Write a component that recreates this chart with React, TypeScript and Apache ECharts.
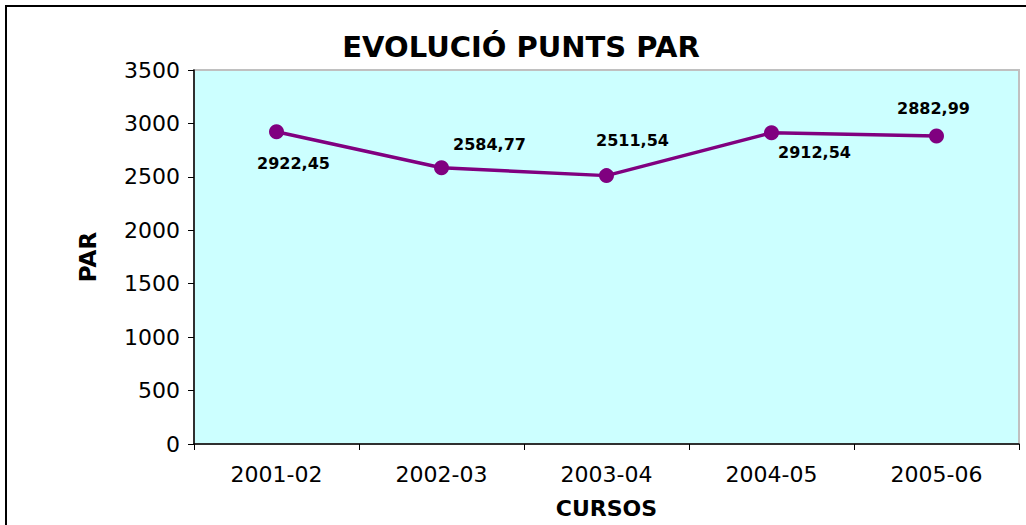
import React, { useEffect, useRef } from "react";
import * as echarts from "echarts";

const categories = ["2001-02", "2002-03", "2003-04", "2004-05", "2005-06"];
const values = [2922.45, 2584.77, 2511.54, 2912.54, 2882.99];
const labelTexts = ["2922,45", "2584,77", "2511,54", "2912,54", "2882,99"];
const labelOffsets: [number, number][] = [
  [17, 32],
  [48, -23],
  [26, -35],
  [43, 20],
  [-3, -27],
];

export default function App() {
  const ref = useRef<HTMLDivElement>(null);
  useEffect(() => {
    document.body.style.margin = "0";
    const chart = echarts.init(ref.current!, null, { renderer: "svg" });
    chart.setOption({
      animation: false,
      backgroundColor: "#ffffff",
      title: {
        text: "EVOLUCIÓ PUNTS PAR",
        left: 516,
        top: 42,
        textAlign: "center",
        textVerticalAlign: "middle",
        textStyle: {
          fontFamily: "DejaVu Sans",
          fontWeight: "bold",
          fontSize: 29,
          color: "#000",
        },
      },
      graphic: [
        {
          type: "rect",
          shape: { x: 6, y: 6, width: 1040, height: 540 },
          style: { fill: "none", stroke: "#000", lineWidth: 2 },
          silent: true,
        },
      ],
      grid: {
        left: 194,
        top: 70,
        right: 7,
        bottom: 81,
        outerBoundsMode: "none",
        containLabel: false,
        show: true,
        backgroundColor: "#CCFFFF",
        borderColor: "#c0c0c0",
        borderWidth: 2,
      },
      xAxis: {
        type: "category",
        data: categories,
        boundaryGap: true,
        name: "CURSOS",
        nameLocation: "middle",
        nameGap: 53,
        nameTextStyle: {
          fontFamily: "DejaVu Sans",
          fontWeight: "bold",
          fontSize: 22,
          color: "#000",
        },
        axisLine: { show: true, lineStyle: { color: "#000", width: 1.5 } },
        axisTick: { show: true, alignWithLabel: false, length: 6, lineStyle: { color: "#000" } },
        axisLabel: {
          fontFamily: "DejaVu Sans",
          fontSize: 22,
          color: "#000",
          margin: 19,
        },
        splitLine: { show: false },
      },
      yAxis: {
        type: "value",
        min: 0,
        max: 3500,
        interval: 500,
        name: "PAR",
        nameLocation: "middle",
        nameGap: 95,
        nameRotate: 90,
        nameTextStyle: {
          fontFamily: "DejaVu Sans",
          fontWeight: "bold",
          fontSize: 23,
          color: "#000",
        },
        axisLine: { show: true, lineStyle: { color: "#000", width: 1.5 } },
        axisTick: { show: true, length: 6, lineStyle: { color: "#000" } },
        axisLabel: {
          fontFamily: "DejaVu Sans",
          fontSize: 22,
          color: "#000",
          margin: 14,
          formatter: (v: number) => String(v),
        },
        splitLine: { show: false },
      },
      series: [
        {
          type: "line",
          data: values.map((v, i) => ({
            value: v,
            label: {
              show: true,
              position: "inside",
              offset: labelOffsets[i],
              formatter: labelTexts[i],
            },
          })),
          symbol: "circle",
          symbolSize: 15,
          lineStyle: { color: "#800080", width: 3.5 },
          itemStyle: { color: "#800080" },
          label: {
            show: true,
            fontFamily: "DejaVu Sans",
            fontWeight: "bold",
            fontSize: 16,
            color: "#000",
            align: "center",
            verticalAlign: "middle",
          },
        },
      ],
    });
    return () => chart.dispose();
  }, []);
  return <div ref={ref} style={{ width: 1026, height: 525 }} />;
}
